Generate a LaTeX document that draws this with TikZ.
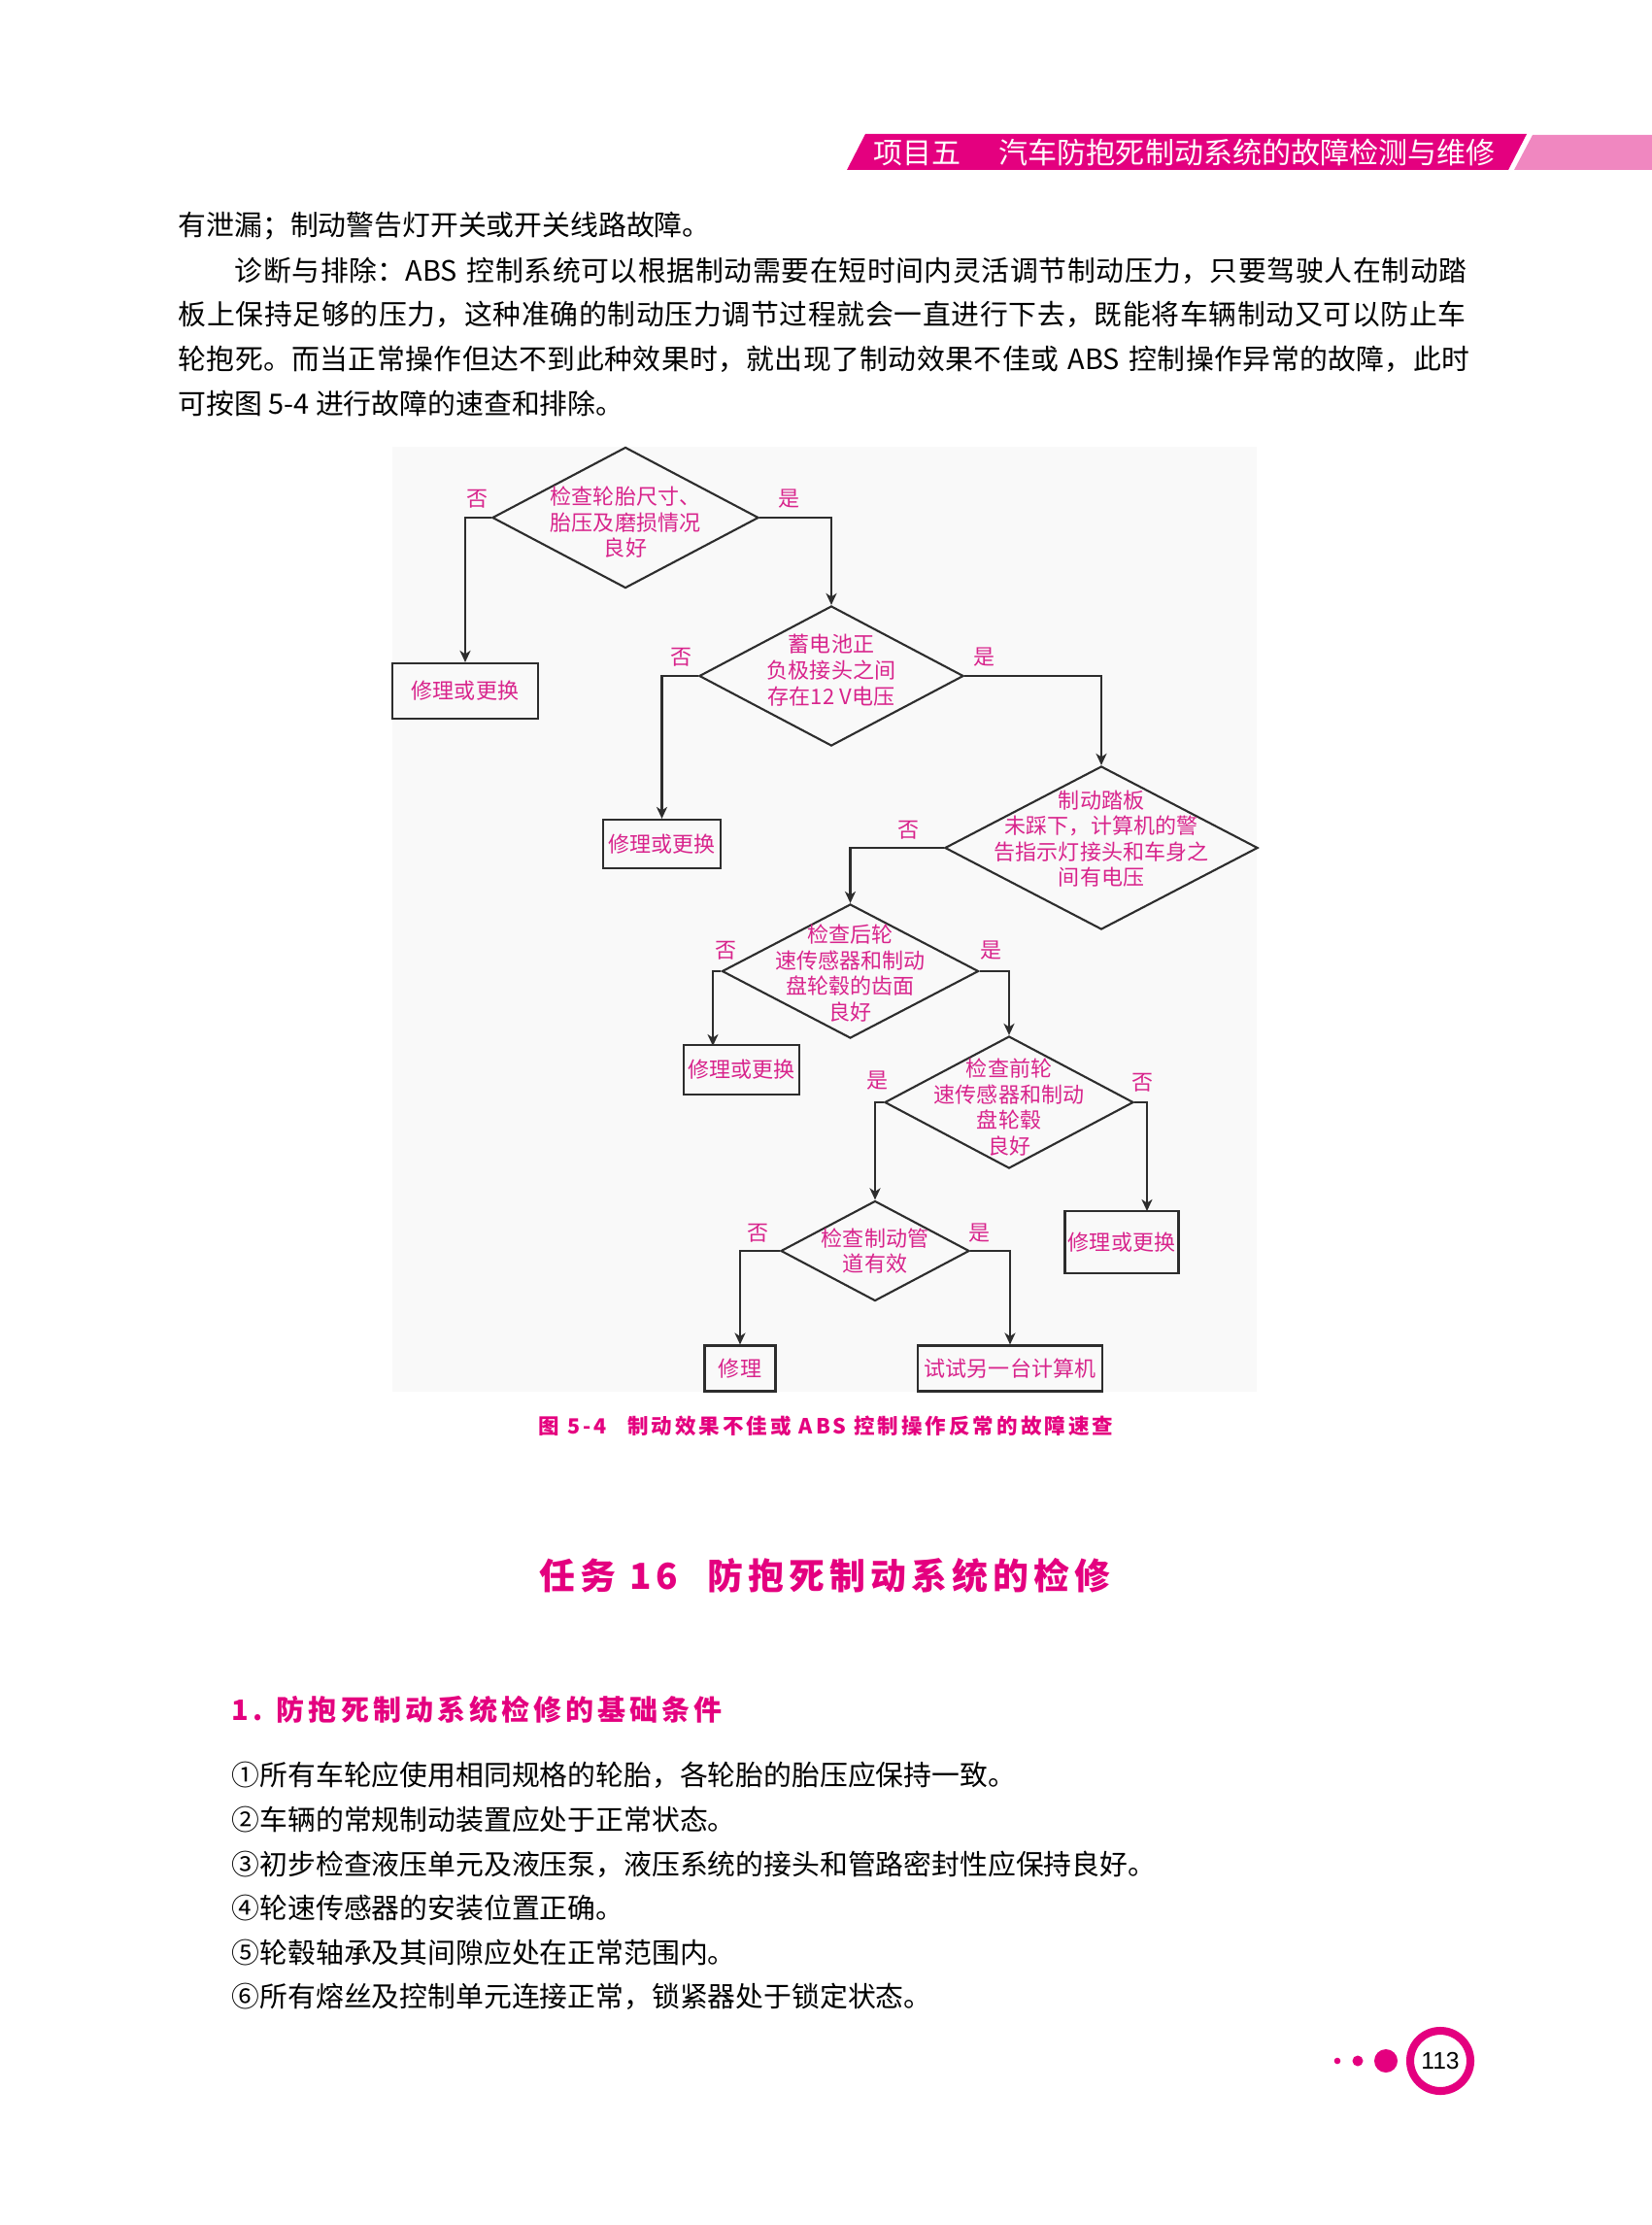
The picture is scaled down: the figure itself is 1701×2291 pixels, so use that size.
\documentclass[tikz,border=0pt]{standalone}
\usepackage{fontspec}
\usetikzlibrary{shapes.geometric,arrows.meta}
\newfontfamily\cjk{Noto Sans CJK SC}
\newfontfamily\cjkkuan[LetterSpace=14]{Noto Sans CJK SC}
\newfontfamily\shuzi{Liberation Sans}
\XeTeXlinebreaklocale "zh"
\XeTeXlinebreakskip=0pt plus 1pt
\definecolor{yanghong}{RGB}{228,0,127}
\definecolor{qianfen}{RGB}{240,135,192}
\definecolor{tufen}{RGB}{216,36,140}
\definecolor{xianhui}{RGB}{45,45,45}
\definecolor{dihui}{RGB}{249,249,249}
\newcommand\tuzi{\cjk\fontsize{6.26pt}{7.54pt}\selectfont}
\newcommand\zhengzi{\cjk\fontsize{8.2pt}{12.9pt}\selectfont}
\newcommand\kuangwen[2][0pt]{\makebox[0pt]{\smash{\raisebox{#1}{\begin{tabular}{@{}c@{}}#2\end{tabular}}}}}
\tikzset{
  panduan/.style 2 args={diamond, draw=xianhui, line width=0.6pt, minimum width=#1, minimum height=#2, inner sep=0pt, text=tufen, font=\tuzi},
  kuang/.style 2 args={rectangle, draw=xianhui, line width=0.6pt, minimum width=#1, minimum height=#2, inner sep=0pt, text=tufen, font=\tuzi},
  biaoqian/.style={text=tufen, font=\tuzi, inner sep=0pt},
  jiantou/.style={draw=xianhui, line width=0.6pt, -{Stealth[length=1.2mm, width=1.1mm, inset=0.35mm]}},
  zhengwen/.style={font=\zhengzi, inner sep=0pt, anchor=west},
  manhang/.style={zhengwen, text width=#1},
}
\begin{document}
\begin{tikzpicture}[x=0.01cm, y=-0.01cm]
        \useasboundingbox (0,0) rectangle (1701,2291);
        \fill[white] (0,0) rectangle (1701,2291);
        % 页眉
        \fill[yanghong] (891,138) -- (1572,138) -- (1553,175) -- (872,175) -- cycle;
        \fill[qianfen] (1578,139) -- (1701,139) -- (1701,175) -- (1559,175) -- cycle;
        \node[font=\cjk\fontsize{8.54pt}{10pt}\selectfont, text=white, inner sep=0pt, anchor=west] (yemei) at (899,157) {项目五\hspace{1.3em}汽车防抱死制动系统的故障检测与维修};
        % 正文
        \node[zhengwen] (h1) at (183,233) {有泄漏；制动警告灯开关或开关线路故障。};
        \node[manhang=12.78cm] (h2) at (241,279) {\noindent\parfillskip=0pt 诊断与排除：ABS 控制系统可以根据制动需要在短时间内灵活调节制动压力，只要驾驶人在制动踏\par};
        \node[manhang=13.36cm] (h3) at (183,324) {\noindent\parfillskip=0pt 板上保持足够的压力，这种准确的制动压力调节过程就会一直进行下去，既能将车辆制动又可以防止车\par};
        \node[manhang=13.36cm] (h4) at (183,370) {\noindent\parfillskip=0pt 轮抱死。而当正常操作但达不到此种效果时，就出现了制动效果不佳或 ABS 控制操作异常的故障，此时\par};
        \node[zhengwen] (h5) at (183,415) {可按图 5-4 进行故障的速查和排除。};
        % 流程图底色
        \fill[dihui] (404,460) rectangle (1294,1433);
        % 判断框
        \node[panduan={2.74cm}{1.45cm}] (d1) at (644,533) {\kuangwen[-3.7pt]{检查轮胎尺寸、\\胎压及磨损情况\\良好}};
        \node[panduan={2.72cm}{1.44cm}] (d2) at (856,696) {\kuangwen[-0.7pt]{蓄电池正\\负极接头之间\\存在12 V电压}};
        \node[panduan={3.22cm}{1.68cm}] (d3) at (1134,873) {\kuangwen[0.3pt]{制动踏板\\未踩下，计算机的警\\告指示灯接头和车身之\\间有电压}};
        \node[panduan={2.64cm}{1.38cm}] (d4) at (875.5,1000) {\kuangwen[-3pt]{检查后轮\\速传感器和制动\\盘轮毂的齿面\\良好}};
        \node[panduan={2.56cm}{1.36cm}] (d5) at (1039,1135) {\kuangwen[-3.8pt]{检查前轮\\速传感器和制动\\盘轮毂\\良好}};
        \node[panduan={1.94cm}{1.03cm}] (d6) at (901,1288) {\kuangwen[-2.4pt]{检查制动管\\道有效}};
        % 方框
        \node[kuang={1.50cm}{0.57cm}] (b1) at (479,711.5) {修理或更换};
        \node[kuang={1.21cm}{0.50cm}] (b2) at (681.5,869) {修理或更换};
        \node[kuang={1.19cm}{0.51cm}] (b3) at (763.5,1101.5) {修理或更换};
        \node[kuang={1.17cm}{0.64cm}] (b4) at (1155,1279) {修理或更换};
        \node[kuang={0.73cm}{0.47cm}] (b5) at (762,1409) {修理};
        \node[kuang={1.90cm}{0.47cm}] (b6) at (1040,1409) {试试另一台计算机};
        % 是否
        \node[biaoqian] (f1) at (492,514) {否};
        \node[biaoqian] (s1) at (812,514) {是};
        \node[biaoqian] (f2) at (701,677) {否};
        \node[biaoqian] (s2) at (1013,677) {是};
        \node[biaoqian] (f3) at (935,855) {否};
        \node[biaoqian] (f4) at (747,979) {否};
        \node[biaoqian] (s4) at (1020,979) {是};
        \node[biaoqian] (s5) at (903,1113) {是};
        \node[biaoqian] (f5) at (1176,1115) {否};
        \node[biaoqian] (f6) at (780,1270) {否};
        \node[biaoqian] (s6) at (1008,1270) {是};
        % 连线
        \coordinate (z4) at (734,1077);
        \coordinate (z5) at (1181,1247);
        \draw[jiantou] (d1.west) -| (b1.north);
        \draw[jiantou] (d1.east) -| (d2.north);
        \draw[jiantou] (d2.west) -| (b2.north);
        \draw[jiantou] (d2.east) -| (d3.north);
        \draw[jiantou] (d3.west) -| (d4.north);
        \draw[jiantou] (d4.west) -| (z4);
        \draw[jiantou] (d4.east) -| (d5.north);
        \draw[jiantou] (d5.west) -| (d6.north);
        \draw[jiantou] (d5.east) -| (z5);
        \draw[jiantou] (d6.west) -| (b5.north);
        \draw[jiantou] (d6.east) -| (b6.north);
        % 图名
        \node[font=\cjkkuan\bfseries\fontsize{6.12pt}{8pt}\selectfont, text=yanghong, inner sep=0pt, anchor=west] (tuming) at (554,1468) {图 5-4\hspace{1em}制动效果不佳或 ABS 控制操作反常的故障速查};
        % 任务标题
        \node[font=\cjkkuan\bfseries\fontsize{10.5pt}{12pt}\selectfont, text=yanghong, inner sep=0pt, anchor=west] (renwu) at (555,1622) {任务 16\hspace{0.8em}防抱死制动系统的检修};
        \node[font=\cjkkuan\bfseries\fontsize{8.25pt}{10pt}\selectfont, text=yanghong, inner sep=0pt, anchor=west] (xiaobiao) at (238,1760) {1. 防抱死制动系统检修的基础条件};
        % 条目
        \node[zhengwen] (t1) at (238,1828) {①所有车轮应使用相同规格的轮胎，各轮胎的胎压应保持一致。};
        \node[zhengwen] (t2) at (238,1874) {②车辆的常规制动装置应处于正常状态。};
        \node[zhengwen] (t3) at (238,1920) {③初步检查液压单元及液压泵，液压系统的接头和管路密封性应保持良好。};
        \node[zhengwen] (t4) at (238,1965) {④轮速传感器的安装位置正确。};
        \node[zhengwen] (t5) at (238,2011) {⑤轮毂轴承及其间隙应处在正常范围内。};
        \node[zhengwen] (t6) at (238,2056) {⑥所有熔丝及控制单元连接正常，锁紧器处于锁定状态。};
        % 页码
        \fill[yanghong] (1377,2122) circle (3.3);
        \fill[yanghong] (1398,2122) circle (5.5);
        \fill[yanghong] (1427,2122) circle (12);
        \draw[yanghong, line width=2.3pt] (1483,2122) circle (31);
        \node[font=\shuzi\fontsize{7pt}{8pt}\selectfont, inner sep=0pt] (yema) at (1483,2122) {113};
      \end{tikzpicture}
\end{document}
